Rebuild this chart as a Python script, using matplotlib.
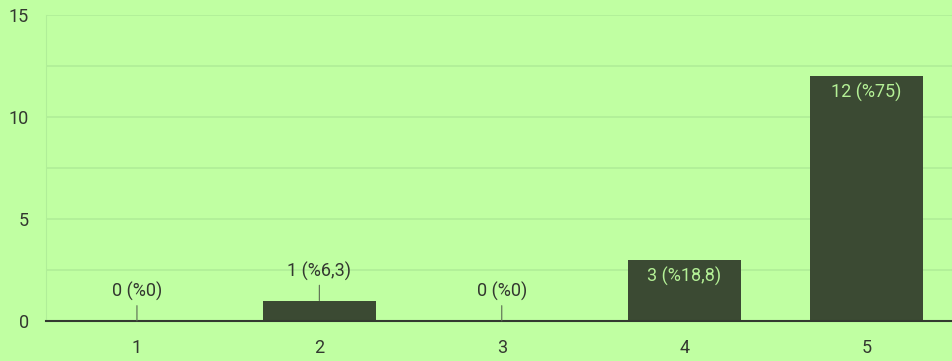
import matplotlib.pyplot as plt
import numpy as np

plt.rcParams['font.family'] = ['Roboto', 'DejaVu Sans']

categories = ['1', '2', '3', '4', '5']
counts = [0, 1, 0, 3, 12]
labels = ['0 (%0)', '1 (%6,3)', '0 (%0)', '3 (%18,8)', '12 (%75)']

bg = '#c0ffa2'
bar_color = '#3b4a33'
grid_color = '#b0ee98'
text_color = '#333830'
fs = 13

fig = plt.figure(figsize=(9.53, 3.61), dpi=100, facecolor=bg)
ax = fig.add_axes([0.048, 0.111, 0.957, 0.848], facecolor=bg)

x = np.arange(1, len(categories) + 1)
ax.bar(x, counts, width=0.62, color=bar_color, zorder=3)

ax.set_xlim(0.5, 5.5)
ax.set_ylim(0, 15)
ax.set_yticks([0, 5, 10, 15])
ax.set_yticks([2.5, 7.5, 12.5], minor=True)
ax.set_xticks(x)
ax.set_xticklabels(categories)
ax.grid(axis='y', which='both', color=grid_color, linewidth=1.2, zorder=0)
ax.tick_params(axis='both', which='both', length=0, labelsize=fs,
               labelcolor=text_color)
ax.tick_params(axis='x', pad=13)
ax.tick_params(axis='y', pad=12)

for s in ['top', 'right']:
    ax.spines[s].set_visible(False)
ax.spines['left'].set_color(grid_color)
ax.spines['bottom'].set_color('#333a30')
ax.spines['bottom'].set_linewidth(1.5)
ax.spines['bottom'].set_zorder(4)

# labels: small bars get a leader line above, tall ones go inside
for xi, c, lab in zip(x, counts, labels):
    if c >= 2:
        ax.annotate(lab, (xi, c), xytext=(0, -5), textcoords='offset points',
                    ha='center', va='top', fontsize=fs, color='#b4f096',
                    zorder=5)
    else:
        ax.annotate(lab, (xi, c), xytext=(0, 14), textcoords='offset points',
                    ha='center', va='bottom', fontsize=fs, color=text_color,
                    arrowprops=dict(arrowstyle='-', color='#5a6a52', lw=0.8,
                                    shrinkA=1, shrinkB=0),
                    zorder=5)

fig.savefig('out.png', dpi=100, facecolor=bg)
